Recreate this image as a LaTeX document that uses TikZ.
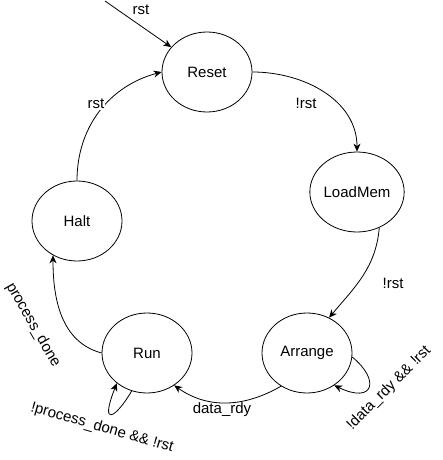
\documentclass[tikz,border=0pt]{standalone}
\usepackage{fontspec}
\setmainfont{Liberation Sans}
\usetikzlibrary{arrows,arrows.meta}
\usetikzlibrary{shapes.geometric}

\begin{document}
\begin{tikzpicture}[x=1pt,y=-1pt,font=\fontsize{15}{17}\selectfont,line width=0.8pt,
	>={Stealth[length=8pt,width=7pt,inset=2.5pt]},
	fsmstate/.style={draw,ellipse,minimum width=90pt,minimum height=80pt,inner sep=0pt},
	lbl/.style={fill=white,inner sep=1pt}]
	\useasboundingbox (0,0) rectangle (442,460);
	% states
	\node[fsmstate] (reset) at (207,72) {Reset};
	\node[fsmstate] (loadmem) at (357,192) {LoadMem};
	\node[fsmstate] (arrange) at (307,353) {Arrange};
	\node[fsmstate] (run) at (147,353) {Run};
	\node[fsmstate] (halt) at (77,221) {Halt};
	\coordinate (start) at (105,1);
	% transitions
	\draw[->] (start) -- (reset);
	\node at (141,10) {rst};
	\draw[->] (halt.north) to[out=90,in=195] (reset.west);
	\node[lbl] at (96,104) {rst};
	\draw[->] (reset.east) to[out=0,in=90] (loadmem.north);
	\node at (306,103) {!rst};
	\draw[->] (loadmem.-58) to[out=-95,in=50] (arrange.58);
	\node at (393,283) {!rst};
	\draw[->] (arrange.-128) to[out=-150,in=-35] (run.-50);
	\node at (222,410) {data\_rdy};
	\draw[->] (arrange.-5) .. controls +(28,23) and +(40,19) .. (arrange.-50);
	\node[rotate=45] at (389,388) {!data\_rdy \&\& !rst};
	\draw[->] (run.-112) .. controls +(-15,26) and +(-18,46) .. (run.-135);
	\node[rotate=-16] at (102,428) {!process\_done \&\& !rst};
	\draw[->] (run.west) to[out=165,in=-90] (halt.-125);
	\node[rotate=-60] at (33,325) {process\_done};
\end{tikzpicture}
\end{document}
